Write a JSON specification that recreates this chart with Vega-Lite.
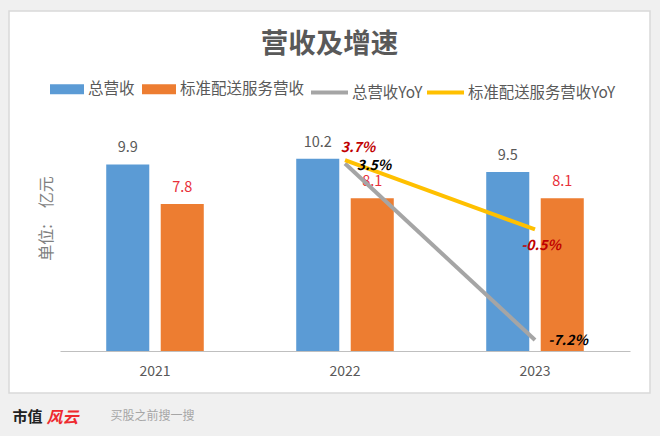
{
"$schema":"https://vega.github.io/schema/vega-lite/v6.json",
"autosize":"none",
"width":641,"height":382,
"padding":{"left":9,"top":11,"right":10,"bottom":43},
"background":"#f0f0f0",
"view":{"fill":"#ffffff","stroke":"#d9d9d9","strokeWidth":1.5},
"config":{"font":"Noto Sans CJK SC"},
"title":{"text":"营收及增速","fontSize":27.5,"fontWeight":"bold","color":"#595959","anchor":"middle","offset":-47,"font":"Noto Sans CJK SC"},
"datasets":{
"bars":[
{"year":"2021","series":"总营收","value":9.9},
{"year":"2021","series":"标准配送服务营收","value":7.8},
{"year":"2022","series":"总营收","value":10.2},
{"year":"2022","series":"标准配送服务营收","value":8.1},
{"year":"2023","series":"总营收","value":9.5},
{"year":"2023","series":"标准配送服务营收","value":8.1}],
"lines":[
{"year":"2022","series":"总营收YoY","yoy":3.5,"label":"3.5%"},
{"year":"2023","series":"总营收YoY","yoy":-7.2,"label":"-7.2%"},
{"year":"2022","series":"标准配送服务营收YoY","yoy":3.7,"label":"3.7%"},
{"year":"2023","series":"标准配送服务营收YoY","yoy":-0.5,"label":"-0.5%"}]
},
"layer":[
{"data":{"name":"bars"},
"encoding":{
"x":{"field":"year","type":"nominal","scale":{"domain":["2021","2022","2023"],"range":[51,621],"paddingInner":0,"paddingOuter":0},
"axis":{"orient":"bottom","offset":-42,"labelAngle":0,"labelFontSize":14,"labelColor":"#595959","labelPadding":13,"ticks":false,"domainColor":"#bfbfbf","domainWidth":1.2,"grid":false,
"title":"市值","titleFontSize":15,"titleFontWeight":"bold","titleColor":"#222222","titleX":18,"titleY":58}},
"y":{"field":"value","type":"quantitative","scale":{"domain":[0,18.04],"range":[340,0],"nice":false,"zero":false},
"axis":{"domain":false,"ticks":false,"labels":false,"grid":false,"title":"单位:　亿元","titleFontSize":16,"titleFontWeight":"normal","titleColor":"#7f7f7f","titleX":45,"titleY":207}},
"xOffset":{"field":"series","type":"nominal","sort":["总营收","标准配送服务营收"],"scale":{"domain":["总营收","标准配送服务营收"],"paddingInner":0.21,"paddingOuter":0.848}}
},
"layer":[
{"mark":{"type":"bar"},
"encoding":{"fill":{"field":"series","type":"nominal",
"scale":{"domain":["总营收","标准配送服务营收"],"range":["#5b9bd5","#ed7d31"]},
"legend":{"orient":"none","direction":"horizontal","columns":2,"legendX":41,"legendY":61,"title":null,"symbolType":"M-1,-0.3H1V0.3H-1Z","symbolSize":1156,"symbolStrokeWidth":0,"labelFontSize":15.5,"labelColor":"#595959","labelOffset":4,"columnPadding":7,"padding":0,"labelLimit":200}}}},
{"mark":{"type":"text","baseline":"bottom","dy":-9,"fontSize":14.5},
"encoding":{"text":{"field":"value","type":"quantitative","format":".1f"},
"color":{"condition":{"test":"datum.series==='总营收'","value":"#595959"},"value":"#e8303a"}}}
]},
{"data":{"name":"lines"},
"encoding":{
"x":{"field":"year","type":"nominal","scale":{"domain":["2021","2022","2023"],"range":[51,621],"paddingInner":0,"paddingOuter":0},
"axis":{"orient":"bottom","offset":-42,"labels":false,"ticks":false,"domain":false,"grid":false,"title":"风云","titleFontSize":16,"titleFontWeight":"bold","titleFontStyle":"italic","titleColor":"#ee2a2f","titleX":53,"titleY":58}},
"y":{"field":"yoy","type":"quantitative","scale":{"domain":[-7.2,12.74],"range":[329,0],"nice":false,"zero":false},
"axis":{"orient":"right","domain":false,"ticks":false,"labels":false,"grid":false,"title":"买股之前搜一搜","titleFontSize":12,"titleFontWeight":"normal","titleColor":"#a6a6a6","titleAngle":0,"titleX":-498,"titleY":404,"titleAlign":"center","titleBaseline":"middle"}}
},
"layer":[
{"mark":{"type":"line","strokeWidth":4,"strokeCap":"butt"},
"encoding":{"stroke":{"field":"series","type":"nominal",
"scale":{"domain":["总营收YoY","标准配送服务营收YoY"],"range":["#a5a5a5","#ffc000"]},
"legend":{"orient":"none","direction":"horizontal","columns":2,"legendX":300,"legendY":61,"title":null,"symbolType":"stroke","symbolSize":1369,"symbolStrokeWidth":4,"labelFontSize":15.4,"labelColor":"#595959","labelOffset":2,"columnPadding":-4,"padding":0,"labelLimit":220}}}},
{"transform":[{"filter":"datum.series==='标准配送服务营收YoY' && datum.year==='2022'"}],
"mark":{"type":"text","fontStyle":"italic","fontWeight":"bold","fontSize":14,"color":"#c00000","dx":13,"dy":-12},
"encoding":{"text":{"field":"label","type":"nominal"}}},
{"transform":[{"filter":"datum.series==='总营收YoY' && datum.year==='2022'"}],
"mark":{"type":"text","fontStyle":"italic","fontWeight":"bold","fontSize":14,"color":"#000000","dx":29,"dy":3},
"encoding":{"text":{"field":"label","type":"nominal"}}},
{"transform":[{"filter":"datum.series==='标准配送服务营收YoY' && datum.year==='2023'"}],
"mark":{"type":"text","fontStyle":"italic","fontWeight":"bold","fontSize":14,"color":"#c00000","dx":6,"dy":17},
"encoding":{"text":{"field":"label","type":"nominal"}}},
{"transform":[{"filter":"datum.series==='总营收YoY' && datum.year==='2023'"}],
"mark":{"type":"text","fontStyle":"italic","fontWeight":"bold","fontSize":14,"color":"#000000","dx":33,"dy":1},
"encoding":{"text":{"field":"label","type":"nominal"}}}
]}
],
"resolve":{"scale":{"y":"independent"},"axis":{"x":"independent"}}
}
